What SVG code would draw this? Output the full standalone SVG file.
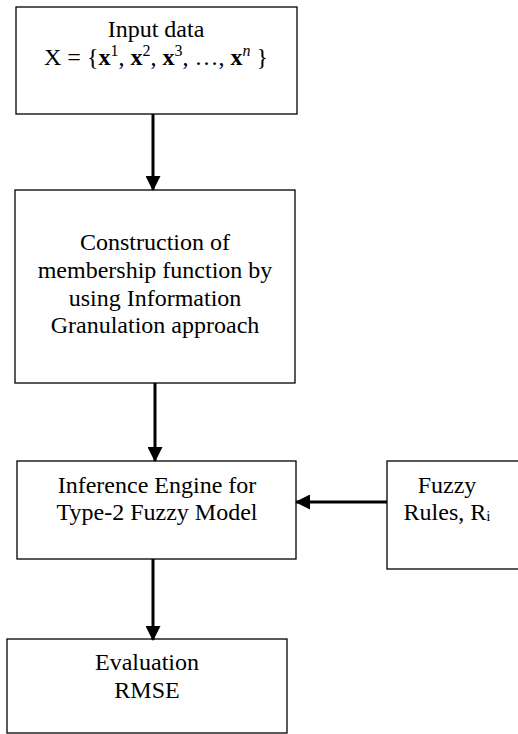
<svg xmlns="http://www.w3.org/2000/svg" width="518" height="734" viewBox="0 0 518 734">
<defs>
<style>
.box{fill:#fff;stroke:#000;stroke-width:1.3}
.t{font-family:"Liberation Serif","Times New Roman",serif;font-size:24px;fill:#000;text-anchor:middle}
.c{stroke:#000;stroke-width:3;fill:none}
</style>
<marker id="ah" markerWidth="15" markerHeight="15" refX="14" refY="7.5" orient="auto" markerUnits="userSpaceOnUse" viewBox="0 0 15 15">
<path d="M0,0 L15,7.5 L0,15 z" fill="#000"/>
</marker>
</defs>
<rect width="518" height="734" fill="#fff"/>
<g id="input">
<rect class="box" x="16" y="7" width="281" height="107"/>
<text class="t" x="156" y="37">Input data</text>
<text class="t" x="156" y="65">X = {<tspan font-weight="bold">x</tspan><tspan dy="-9" font-size="16">1</tspan><tspan dy="9">, </tspan><tspan font-weight="bold">x</tspan><tspan dy="-9" font-size="16">2</tspan><tspan dy="9">, </tspan><tspan font-weight="bold">x</tspan><tspan dy="-9" font-size="16">3</tspan><tspan dy="9">, …, </tspan><tspan font-weight="bold">x</tspan><tspan dy="-9" font-size="16" font-style="italic">n</tspan><tspan dy="9"> }</tspan></text>
</g>
<g id="construction">
<rect class="box" x="15" y="190" width="280" height="193"/>
<text class="t" x="155" y="250">Construction of</text>
<text class="t" x="155" y="278">membership function by</text>
<text class="t" x="155" y="306">using Information</text>
<text class="t" x="155" y="333">Granulation approach</text>
</g>
<g id="inference">
<rect class="box" x="17" y="461" width="279" height="98"/>
<text class="t" x="157" y="493">Inference Engine for</text>
<text class="t" x="157" y="520">Type-2 Fuzzy Model</text>
</g>
<g id="rules">
<rect class="box" x="387" y="461" width="140" height="108"/>
<text class="t" x="447" y="493">Fuzzy</text>
<text class="t" x="447" y="520">Rules, R<tspan font-size="15" dy="1">i</tspan></text>
</g>
<g id="evaluation">
<rect class="box" x="7" y="639" width="280" height="94"/>
<text class="t" x="147" y="670">Evaluation</text>
<text class="t" x="147" y="698">RMSE</text>
</g>
<g id="connectors">
<line class="c" x1="153" y1="114" x2="153" y2="190" marker-end="url(#ah)"/>
<line class="c" x1="155" y1="383" x2="155" y2="461" marker-end="url(#ah)"/>
<line class="c" x1="387" y1="502" x2="296" y2="502" marker-end="url(#ah)"/>
<line class="c" x1="153" y1="559" x2="153" y2="640" marker-end="url(#ah)"/>
</g>
</svg>
